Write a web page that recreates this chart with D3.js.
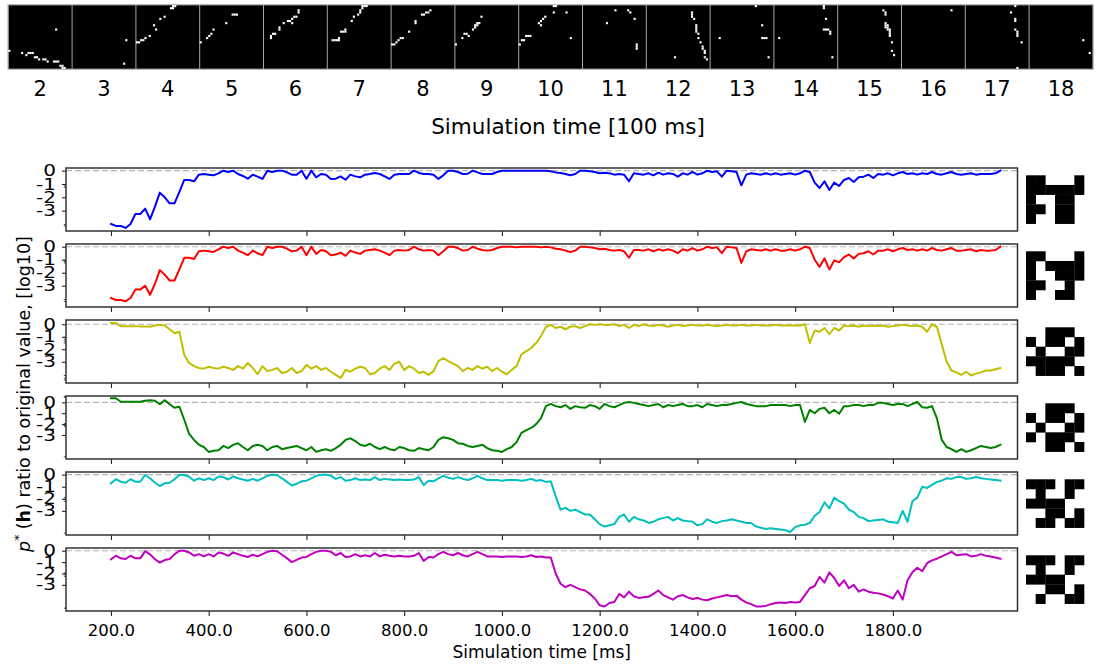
<!DOCTYPE html>
<html>
<head>
<meta charset="utf-8">
<script src="https://cdn.jsdelivr.net/npm/d3@7"></script>
<style>
  body { margin: 0; background: #fff; }
  svg { display: block; }
  text { font-family: "DejaVu Sans", sans-serif; fill: #000; }
</style>
</head>
<body>
<svg id="chart" width="1098" height="668"></svg>
<script>
// ---------------- data ----------------
// Network snapshots, one per 100 ms; active units given as [col,row] on a 30x30 grid
const snapshotLabels = ["2","3","4","5","6","7","8","9","10","11","12","13","14","15","16","17","18"];
const snapshotActive = [
  [[0,21],[22,11],[6,22],[8,23],[9,22],[10,22],[11,22],[12,24],[13,24],[14,25],[16,25],[17,25],[18,26],[21,26],[22,26],[23,26],[24,28],[25,28],[25,29],[26,29]],
  [[25,16],[24,27]],
  [[0,17],[1,17],[2,16],[3,16],[4,15],[6,14],[8,9],[9,11],[11,6],[13,5],[16,1],[17,0],[17,1],[18,0]],
  [[0,17],[3,15],[4,14],[5,13],[6,11],[12,8],[15,4],[16,4],[17,4]],
  [[3,14],[3,15],[4,13],[5,13],[7,10],[7,11],[9,8],[11,7],[12,7],[13,6],[13,8],[14,5],[15,5],[16,3],[16,2]],
  [[2,16],[3,16],[4,16],[5,16],[5,15],[6,12],[7,12],[8,12],[8,11],[11,7],[12,5],[14,4],[15,3],[15,2],[16,1],[16,0],[17,0],[18,0]],
  [[0,18],[1,18],[2,17],[3,16],[4,15],[5,15],[8,12],[11,7],[11,8],[14,4],[15,4],[16,3],[17,3],[18,2]],
  [[0,18],[3,15],[4,13],[5,13],[6,14],[8,11],[9,10],[10,9],[9,9],[10,8],[11,8],[12,5]],
  [[0,18],[1,16],[2,16],[3,14],[4,14],[5,14],[9,8],[10,9],[10,7],[11,6],[12,5],[16,0],[17,0],[16,3],[22,3],[24,15]],
  [[11,8],[15,2],[21,2],[22,3],[24,6],[25,18],[25,19],[25,20]],
  [[13,24],[21,3],[21,4],[21,5],[22,6],[23,9],[23,10],[23,11],[23,12],[24,13],[24,15],[25,17],[26,19],[26,20],[27,21],[27,22],[27,24],[28,25]],
  [[4,15],[21,0],[24,9],[24,15],[25,15],[26,15],[27,24]],
  [[2,15],[23,0],[23,1],[24,6],[23,11],[24,11],[25,11],[26,12],[26,13],[27,24]],
  [[21,2],[22,3],[22,4],[22,8],[22,9],[23,9],[22,10],[23,10],[23,11],[24,11],[24,12],[24,13],[24,14],[25,17],[25,21],[26,23]],
  [[23,2]],
  [[23,0],[21,3],[23,6],[23,7],[23,11],[24,12],[24,13],[24,14],[26,17],[24,29]],
  [[25,16],[28,22]]
];

// Sampling of the recall traces
const T_START = 200;   // ms
const T_STEP = 10;     // ms

// log10 of p*(h) relative to its value at the stored pattern, one trace per pattern
const blueValues = [
  -4.0,-4.15,-4.15,-4.3,-4.0,-3.25,-3.25,-2.85,-3.65,-2.7,
  -1.65,-2.0,-2.45,-2.45,-1.6,-0.7,-0.7,-0.8,-0.3,-0.25,
  -0.3,-0.35,-0.2,0,-0.1,0,-0.25,-0.4,-0.6,-0.3,
  -0.45,-0.62,0,-0.1,0,0,-0.13,-0.3,-0.3,0,
  -0.6,0,-0.5,-0.25,-0.3,-0.62,-0.6,-0.43,-0.68,-0.3,
  -0.43,-0.5,-0.3,-0.25,-0.17,-0.25,-0.43,-0.62,-0.3,-0.25,
  -0.25,-0.25,0,-0.17,-0.25,-0.25,-0.3,-0.62,-0.35,0,
  0,-0.1,-0.25,-0.23,0,-0.13,-0.25,-0.25,-0.25,-0.1,
  0,0,0,0,0,0,0,0,0,0,
  -0.05,-0.13,-0.17,-0.25,-0.35,-0.25,0,0,-0.05,-0.1,
  -0.2,-0.15,-0.2,-0.3,-0.25,-0.3,-0.8,-0.2,-0.25,-0.3,
  -0.2,-0.35,-0.15,-0.3,-0.2,-0.25,-0.45,-0.2,-0.3,-0.1,
  -0.3,-0.2,0,-0.1,-0.05,-0.45,0,-0.05,-0.1,-1.1,
  -0.3,-0.2,-0.25,-0.3,-0.2,-0.3,-0.2,-0.3,-0.25,-0.2,
  -0.3,-0.2,0,-0.1,-0.9,-1.3,-0.8,-1.45,-0.9,-1.15,
  -0.7,-0.55,-0.85,-0.5,-0.45,-0.3,-0.55,-0.25,-0.3,-0.2,
  -0.35,-0.2,-0.1,-0.25,-0.2,-0.3,-0.2,-0.25,-0.1,-0.25,
  -0.3,-0.2,-0.1,-0.25,-0.3,-0.25,-0.2,-0.3,-0.25,-0.25,
  -0.25,-0.2,0
];
const redValues = [
  -3.95,-4.1,-4.1,-4.2,-3.95,-3.3,-3.3,-3.0,-3.7,-2.85,
  -1.8,-2.15,-2.6,-2.6,-1.75,-0.85,-0.85,-0.95,-0.35,-0.3,
  -0.35,-0.4,-0.2,0,-0.1,0,-0.3,-0.45,-0.65,-0.3,
  -0.5,-0.65,0,-0.1,0,0,-0.15,-0.35,-0.3,0,
  -0.65,0,-0.55,-0.25,-0.35,-0.65,-0.6,-0.45,-0.7,-0.3,
  -0.45,-0.55,-0.3,-0.25,-0.2,-0.3,-0.45,-0.65,-0.3,-0.25,
  -0.3,-0.25,0,-0.2,-0.3,-0.25,-0.3,-0.65,-0.35,0,
  0,-0.1,-0.3,-0.25,0,-0.15,-0.25,-0.3,-0.25,-0.1,
  0,0,0,-0.05,0,0,0,0,-0.05,0,
  -0.05,-0.15,-0.2,-0.3,-0.4,-0.3,0,0,-0.05,-0.1,
  -0.2,-0.15,-0.25,-0.3,-0.25,-0.35,-0.85,-0.25,-0.25,-0.3,
  -0.2,-0.35,-0.2,-0.3,-0.2,-0.3,-0.5,-0.2,-0.3,-0.1,
  -0.3,-0.2,0,-0.1,-0.05,-0.5,0,-0.05,-0.1,-1.25,
  -0.35,-0.2,-0.25,-0.3,-0.2,-0.3,-0.2,-0.3,-0.3,-0.2,
  -0.3,-0.2,0,-0.1,-1.0,-1.55,-0.9,-1.75,-1.05,-1.2,
  -0.8,-0.6,-0.9,-0.55,-0.5,-0.35,-0.6,-0.3,-0.3,-0.2,
  -0.35,-0.2,-0.1,-0.25,-0.2,-0.3,-0.2,-0.3,-0.1,-0.25,
  -0.3,-0.2,-0.1,-0.3,-0.3,-0.25,-0.2,-0.35,-0.25,-0.3,
  -0.3,-0.25,0
];
const yellowValues = [
  0.1,0.1,-0.15,-0.15,-0.15,-0.15,-0.17,-0.17,-0.2,-0.1,
  -0.05,-0.1,-0.4,-0.72,-0.6,-2.45,-3.1,-3.35,-3.5,-3.55,
  -3.4,-3.5,-3.55,-3.4,-3.5,-3.65,-3.35,-3.55,-3.1,-3.5,
  -4.0,-3.35,-3.75,-3.65,-3.5,-3.9,-3.8,-3.5,-3.9,-3.75,
  -3.25,-3.55,-3.35,-3.65,-3.5,-3.8,-4.05,-4.3,-3.65,-3.8,
  -3.55,-3.4,-3.5,-4.0,-3.9,-3.55,-3.35,-3.65,-3.15,-3.0,
  -3.65,-3.35,-3.55,-3.9,-3.8,-4.05,-3.75,-2.95,-2.7,-2.95,
  -3.15,-3.35,-3.75,-3.5,-3.65,-3.35,-3.55,-3.4,-3.75,-3.5,
  -3.8,-4.0,-3.65,-3.35,-2.4,-2.15,-1.9,-1.5,-0.95,-0.2,
  -0.05,-0.3,-0.2,-0.4,-0.2,-0.15,-0.3,-0.15,0,-0.05,
  0,-0.05,-0.05,0,-0.15,-0.05,-0.3,-0.05,-0.15,0,
  -0.1,-0.15,-0.05,-0.1,-0.2,-0.1,-0.05,-0.15,-0.1,-0.05,
  -0.1,-0.1,-0.05,-0.1,-0.15,-0.1,-0.05,-0.1,-0.1,-0.05,
  -0.1,-0.1,-0.05,-0.1,-0.1,-0.1,-0.05,-0.1,-0.1,-0.1,
  -0.1,-0.1,0,-1.5,-0.5,-0.6,-0.3,-0.8,-0.3,-0.5,
  -0.1,-0.15,-0.1,-0.2,-0.1,-0.15,-0.1,-0.15,-0.1,-0.2,
  -0.15,-0.1,-0.05,-0.1,-0.15,-0.1,-0.2,-0.6,0,-0.2,
  -1.6,-3.0,-3.7,-3.85,-4.05,-3.8,-4.1,-3.95,-3.85,-3.7,
  -3.7,-3.6,-3.5
];
const greenValues = [
  0.37,0.37,0.05,0.05,0.05,0.05,0.05,0.14,0.2,0.15,
  -0.18,0.2,-0.18,-0.5,-0.4,-1.6,-2.9,-3.45,-3.9,-4.1,
  -4.55,-4.45,-4.4,-4.0,-4.2,-3.9,-3.75,-4.1,-4.4,-4.0,
  -3.9,-4.0,-4.4,-4.1,-4.0,-4.3,-4.2,-4.1,-4.0,-4.2,
  -4.4,-4.1,-4.55,-4.4,-4.3,-4.45,-4.2,-3.9,-3.45,-3.3,
  -3.55,-3.9,-4.0,-3.8,-4.1,-4.3,-4.1,-4.3,-4.4,-4.1,
  -4.2,-4.4,-4.45,-4.2,-4.3,-4.4,-4.1,-3.45,-3.2,-3.3,
  -3.45,-3.75,-3.8,-4.0,-4.1,-4.0,-3.9,-4.2,-4.4,-4.45,
  -4.55,-4.3,-4.1,-3.65,-2.8,-2.55,-2.35,-2.0,-1.45,-0.35,
  -0.15,-0.35,-0.45,-0.25,-0.6,-0.35,-0.45,-0.5,-0.25,-0.35,
  -0.6,-0.15,-0.35,-0.45,-0.25,-0.05,0.03,-0.05,-0.15,-0.25,
  -0.35,-0.25,-0.15,-0.45,-0.25,-0.35,-0.25,-0.15,-0.35,-0.35,
  -0.25,-0.45,-0.15,-0.25,-0.35,-0.25,-0.25,-0.15,-0.05,0.03,
  -0.15,-0.25,-0.35,-0.35,-0.35,-0.25,-0.25,-0.25,-0.25,-0.35,
  -0.25,-0.25,-1.8,-0.7,-1.0,-0.6,-0.5,-1.0,-0.7,-1.05,
  -0.35,-0.35,-0.25,-0.25,-0.35,-0.25,-0.25,-0.05,-0.05,-0.15,
  -0.25,-0.15,-0.15,-0.35,-0.15,0.03,-0.45,-0.5,-0.35,-1.45,
  -3.45,-4.1,-4.3,-4.55,-4.3,-4.55,-4.4,-4.2,-4.0,-4.1,
  -4.2,-4.1,-3.9
];
const cyanValues = [
  -0.72,-0.38,-0.58,-0.67,-0.38,-0.58,-0.58,-0.03,-0.3,-0.67,
  -0.94,-0.72,-0.67,-0.38,-0.03,-0.03,-0.17,-0.5,-0.3,-0.45,
  -0.3,-0.45,-0.15,-0.2,-0.4,-0.15,-0.3,-0.4,-0.5,-0.35,
  -0.5,-0.3,-0.1,0,-0.05,-0.3,-0.6,-0.9,-0.75,-0.55,
  -0.5,-0.3,-0.1,0,0,-0.1,-0.35,-0.2,-0.5,-0.45,
  -0.3,-0.45,-0.4,-0.45,-0.2,-0.45,-0.35,-0.4,-0.45,-0.4,
  -0.45,-0.45,-0.4,-0.2,-0.85,-0.5,-0.55,-0.3,-0.1,-0.25,
  -0.35,-0.2,-0.35,-0.45,-0.3,-0.1,-0.3,-0.45,-0.45,-0.45,
  -0.5,-0.45,-0.45,-0.45,-0.5,-0.45,-0.35,-0.5,-0.45,-0.6,
  -0.55,-1.8,-2.9,-2.75,-3.0,-2.9,-3.1,-3.3,-3.3,-3.7,
  -4.1,-4.3,-4.2,-4.1,-3.5,-3.3,-3.9,-3.5,-3.7,-3.8,
  -4.0,-3.9,-3.7,-3.6,-3.5,-3.8,-3.6,-3.8,-3.85,-3.9,
  -4.2,-4.1,-3.7,-3.9,-4.0,-3.85,-3.8,-3.7,-3.8,-3.9,
  -4.0,-4.0,-4.3,-4.4,-4.5,-4.45,-4.5,-4.55,-4.6,-4.75,
  -4.35,-4.2,-4.15,-4.0,-3.4,-3.1,-2.3,-2.8,-1.9,-2.2,
  -2.4,-2.9,-3.1,-3.5,-3.6,-3.85,-3.8,-3.75,-3.7,-3.9,
  -3.95,-4.0,-3.0,-3.9,-2.2,-1.9,-1.0,-1.1,-0.85,-0.6,
  -0.5,-0.3,-0.35,-0.2,-0.2,-0.35,-0.3,-0.2,-0.3,-0.35,
  -0.4,-0.45,-0.5
];
const magentaValues = [
  -0.75,-0.44,-0.67,-0.73,-0.44,-0.67,-0.67,-0.03,-0.32,-0.75,
  -1.05,-0.82,-0.73,-0.32,0,0,-0.15,-0.44,-0.3,-0.5,
  -0.3,-0.5,-0.15,-0.25,-0.45,-0.15,-0.3,-0.45,-0.55,-0.35,
  -0.5,-0.3,-0.1,0,-0.05,-0.35,-0.65,-1.0,-0.8,-0.6,
  -0.55,-0.3,-0.1,0,0,-0.1,-0.4,-0.2,-0.55,-0.5,
  -0.3,-0.5,-0.4,-0.5,-0.2,-0.5,-0.35,-0.45,-0.5,-0.45,
  -0.5,-0.5,-0.45,-0.2,-0.9,-0.55,-0.6,-0.3,-0.1,-0.3,
  -0.4,-0.2,-0.4,-0.5,-0.3,-0.1,-0.3,-0.5,-0.5,-0.5,
  -0.55,-0.5,-0.5,-0.5,-0.55,-0.5,-0.4,-0.55,-0.5,-0.6,
  -0.6,-2.0,-2.9,-3.2,-3.0,-3.2,-3.4,-3.5,-3.8,-4.2,
  -4.8,-4.9,-4.6,-4.5,-3.8,-4.1,-3.6,-4.0,-4.15,-4.1,
  -4.05,-3.8,-3.5,-3.9,-4.1,-4.3,-4.0,-3.9,-4.1,-4.25,
  -4.15,-4.3,-4.35,-4.2,-4.1,-4.0,-3.9,-4.0,-3.95,-4.3,
  -4.55,-4.7,-4.9,-4.9,-4.85,-4.7,-4.6,-4.55,-4.6,-4.5,
  -4.55,-4.5,-3.9,-3.3,-3.1,-2.3,-2.8,-1.9,-2.4,-3.1,
  -2.6,-3.3,-3.0,-3.6,-3.4,-3.6,-3.7,-3.75,-3.85,-4.0,
  -4.2,-3.5,-4.3,-2.6,-1.9,-1.5,-1.8,-1.1,-0.85,-0.7,
  -0.5,-0.3,-0.1,-0.4,-0.35,-0.3,-0.5,-0.45,-0.3,-0.45,
  -0.5,-0.6,-0.7
];
const seriesColors = ["#0000ff", "#ff0000", "#bfbf00", "#008000", "#00bfbf", "#bf00bf"];

// Stored patterns (6 x 5 binary images), 1 = black
const storedPatterns = [
  [[1,1,0,0,0,1],[1,1,1,1,1,1],[1,0,0,1,1,0],[1,1,0,1,1,0],[1,0,0,1,1,0]],
  [[1,1,0,0,0,1],[1,0,1,1,1,1],[1,0,0,1,1,1],[1,1,0,0,1,0],[1,0,0,1,1,0]],
  [[0,0,1,1,1,0],[1,0,1,1,0,1],[0,1,0,0,1,1],[1,1,1,1,1,0],[0,1,1,1,0,1]],
  [[0,0,1,1,1,0],[1,0,1,1,0,1],[0,1,0,0,1,1],[1,0,1,1,1,0],[0,0,1,1,0,1]],
  [[1,1,1,0,1,1],[0,1,0,0,1,0],[1,1,1,1,0,0],[0,0,1,1,0,1],[0,1,1,0,1,1]],
  [[1,1,1,0,1,1],[0,1,0,0,1,0],[1,1,1,1,0,0],[0,0,1,1,0,1],[0,1,0,0,1,1]]
];

// Axes
const xTicks = [200, 400, 600, 800, 1000, 1200, 1400, 1600, 1800];
const xLimits = [108, 2055];
const yTicks = [0, -1, -2, -3];
const yLimits = [[-4.53, 0.2], [-4.64, 0.21], [-4.7, 0.34], [-5.2, 0.58], [-5.0, 0.22], [-5.3, 0.24]];
const yMinorTicks = [
  [-1.05, -1.15, -1.25, -4.05, -4.15],
  [-1.05, -1.15, -1.25, -4.05, -4.2],
  [-1.05, -1.2, -1.35, -1.5, -4.1, -4.3, -4.45],
  [0.45, 0.55, -1.95, -2.1, -2.2, -5.0],
  [-1.9, -2.05, -2.2, -4.85],
  [-1.95, -2.1, -2.25, -5.05]
];

// ---------------- drawing ----------------
const svg = d3.select("#chart");
const allSeries = [blueValues, redValues, yellowValues, greenValues, cyanValues, magentaValues];

// --- snapshot strip ---
const strip = { left: 8.3, top: 5, w: 63.8, h: 64, n: 30 };
const cellW = strip.w / strip.n, cellH = strip.h / strip.n;
const stripG = svg.append("g");
stripG.append("rect")
  .attr("x", strip.left - 0.8).attr("y", strip.top - 0.8)
  .attr("width", strip.w * snapshotLabels.length + 1.6).attr("height", strip.h + 1.6)
  .attr("fill", "#a8a8a8");
snapshotLabels.forEach((lab, i) => {
  const gx = strip.left + i * strip.w;
  const g = stripG.append("g").attr("transform", `translate(${gx},${strip.top})`);
  g.append("rect").attr("x", 0.5).attr("y", 0.4).attr("width", strip.w - 1).attr("height", strip.h - 0.8).attr("fill", "#000");
  g.selectAll("rect.on").data(snapshotActive[i]).join("rect")
    .attr("class", "on")
    .attr("x", d => d[0] * cellW).attr("y", d => d[1] * cellH)
    .attr("width", cellW).attr("height", cellH)
    .attr("fill", "#fff");
  stripG.append("text")
    .attr("x", gx + strip.w / 2).attr("y", 96)
    .attr("text-anchor", "middle").attr("font-size", 21)
    .text(lab);
});
svg.append("text")
  .attr("x", 568).attr("y", 134)
  .attr("text-anchor", "middle").attr("font-size", 21.5)
  .text("Simulation time [100 ms]");

// --- recall traces ---
const plot = { left: 66, right: 1017.5, top0: 168, step: 76, h: 63 };
const x = d3.scaleLinear().domain(xLimits).range([plot.left, plot.right]);

allSeries.forEach((vals, k) => {
  const top = plot.top0 + k * plot.step, bottom = top + plot.h;
  const y = d3.scaleLinear().domain(yLimits[k]).range([bottom, top]);
  const g = svg.append("g");

  // reference level (ratio = 1)
  g.append("line")
    .attr("x1", plot.left).attr("x2", plot.right)
    .attr("y1", y(0)).attr("y2", y(0))
    .attr("stroke", "#b4b4b4").attr("stroke-width", 1.2)
    .attr("stroke-dasharray", "6,3");

  const line = d3.line()
    .x((d, i) => x(T_START + i * T_STEP))
    .y(d => y(d));
  g.append("path").datum(vals)
    .attr("d", line)
    .attr("fill", "none")
    .attr("stroke", seriesColors[k])
    .attr("stroke-width", 2)
    .attr("stroke-linejoin", "round")
    .attr("stroke-linecap", "square");

  // x axis (labels only on the last panel)
  const xa = g.append("g").attr("transform", `translate(0,${bottom})`)
    .call(d3.axisBottom(x).tickValues(xTicks).tickSize(5).tickSizeOuter(0)
      .tickFormat(k === allSeries.length - 1 ? d => d.toFixed(1) : () => ""));
  xa.select(".domain").remove();
  xa.selectAll("line").attr("stroke", "#222").attr("stroke-width", 1.1);
  xa.selectAll("text").attr("font-size", 16.5).attr("font-family", "DejaVu Sans").attr("dy", "1.05em").attr("fill", "#000");

  // y axis; labels are drawn slightly widened
  const ya = g.append("g").attr("transform", `translate(${plot.left},0)`)
    .call(d3.axisLeft(y).tickValues(yTicks).tickSize(4).tickSizeOuter(0)
      .tickFormat(d => d === 0 ? "0" : "-" + Math.abs(d)));
  ya.select(".domain").remove();
  ya.selectAll("line").attr("stroke", "#222").attr("stroke-width", 1.1);
  ya.selectAll("text")
    .attr("font-size", 16).attr("font-family", "DejaVu Sans").attr("fill", "#000")
    .attr("x", -8).attr("transform", "scale(1.25,1)");

  // minor ticks
  g.selectAll("line.minor").data(yMinorTicks[k]).join("line")
    .attr("class", "minor")
    .attr("x1", plot.left - 2.2).attr("x2", plot.left)
    .attr("y1", d => y(d)).attr("y2", d => y(d))
    .attr("stroke", "#222").attr("stroke-width", 0.8);

  // frame
  g.append("rect")
    .attr("x", plot.left).attr("y", top)
    .attr("width", plot.right - plot.left).attr("height", plot.h)
    .attr("fill", "none").attr("stroke", "#333").attr("stroke-width", 1.5);

  // stored pattern shown next to its trace
  const cell = 9.67;
  const pg = svg.append("g").attr("transform", `translate(1026,${top + 7.3})`);
  storedPatterns[k].forEach((row, r) => {
    row.forEach((v, c) => {
      if (v) pg.append("rect")
        .attr("x", c * cell).attr("y", r * cell)
        .attr("width", cell + 0.3).attr("height", cell + 0.3)
        .attr("fill", "#000");
    });
  });
});

// axis titles
svg.append("text")
  .attr("x", (plot.left + plot.right) / 2).attr("y", 658)
  .attr("text-anchor", "middle").attr("font-size", 17)
  .text("Simulation time [ms]");

const yl = svg.append("text")
  .attr("transform", "translate(30,394) rotate(-90)")
  .attr("text-anchor", "middle").attr("font-size", 17.5);
yl.append("tspan").attr("font-style", "italic").text("p");
yl.append("tspan").attr("font-size", 12).attr("dy", -7).text("*");
yl.append("tspan").attr("dy", 7).text(" (");
yl.append("tspan").attr("font-weight", "bold").text("h");
yl.append("tspan").text(") ratio to original value, [log10]");
</script>
</body>
</html>
